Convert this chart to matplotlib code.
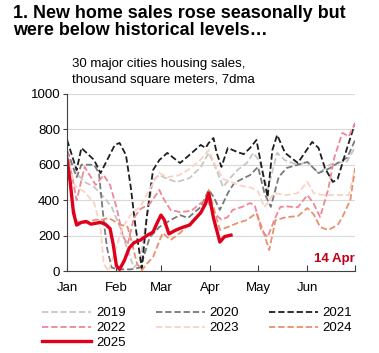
import matplotlib

matplotlib.use("Agg")
import matplotlib.pyplot as plt

plt.rcParams["font.family"] = ["Liberation Sans", "DejaVu Sans"]

# days since 1 Jan, 7dma sales in thousand sqm
days_2019 = [0, 5, 11, 17, 23, 28, 34, 38, 42, 46, 50, 54, 58, 63, 69, 77, 84, 89, 94, 98, 103, 107, 113, 117, 121,
             126, 132, 137, 145, 151, 158, 165, 170, 176, 181]
vals_2019 = [680, 560, 503, 475, 418, 362, 232, 120, 20, 60, 300, 514, 542, 520, 503, 525, 588, 667, 570, 475, 530,
             570, 610, 667, 620, 458, 667, 625, 600, 616, 553, 600, 610, 620, 700]

days_2020 = [0, 6, 9, 17, 20, 23, 25, 28, 32, 40, 46, 52, 58, 65, 71, 76, 84, 89, 92, 96, 101, 105, 110, 115, 120,
             124, 128, 133, 138, 145, 151, 158, 165, 170, 176, 181]
vals_2020 = [680, 530, 600, 600, 553, 288, 135, 20, 10, 10, 20, 192, 249, 288, 316, 300, 362, 458, 420, 345, 440,
             497, 520, 542, 588, 440, 362, 531, 582, 600, 616, 553, 580, 610, 640, 740]

days_2021 = [0, 6, 9, 17, 21, 30, 33, 37, 40, 43, 47, 50, 54, 58, 63, 67, 71, 79, 84, 87, 89, 92, 94, 97, 101, 107,
             111, 115, 119, 123, 126, 129, 132, 137, 145, 154, 158, 162, 167, 170, 175, 179, 181]
vals_2021 = [740, 570, 695, 627, 553, 712, 723, 655, 475, 250, 15, 300, 570, 627, 667, 638, 610, 672, 712, 695, 723,
             751, 667, 588, 695, 672, 660, 695, 740, 553, 418, 683, 768, 667, 610, 729, 695, 582, 503, 520, 667, 780,
             835]

days_2022 = [0, 6, 11, 18, 23, 27, 31, 35, 38, 42, 46, 52, 58, 60, 65, 71, 78, 84, 88, 92, 97, 101, 104, 110, 115,
             118, 122, 126, 131, 134, 138, 145, 151, 155, 159, 164, 168, 173, 177, 181]
vals_2022 = [680, 400, 588, 486, 542, 486, 362, 200, 150, 300, 350, 380, 458, 418, 345, 333, 340, 384, 401, 330, 290,
             305, 345, 362, 384, 370, 232, 192, 305, 362, 365, 360, 429, 380, 305, 458, 644, 780, 760, 836]

days_2023 = [0, 5, 11, 17, 21, 23, 26, 29, 35, 41, 46, 54, 58, 63, 70, 76, 83, 89, 93, 98, 104, 110, 116, 120, 124,
             130, 138, 145, 151, 155, 160, 170, 177, 181]
vals_2023 = [650, 480, 446, 384, 250, 40, 0, 80, 250, 330, 362, 497, 553, 530, 540, 570, 620, 683, 600, 520, 500, 480,
             470, 450, 360, 440, 429, 440, 503, 440, 429, 429, 429, 582]

days_2024 = [0, 3, 6, 10, 14, 18, 22, 26, 30, 34, 38, 41, 44, 47, 50, 54, 60, 65, 71, 78, 84, 89, 96, 101, 107, 113,
             119, 123, 127, 131, 138, 145, 151, 155, 159, 164, 170, 173, 178, 181]
vals_2024 = [600, 400, 280, 270, 280, 290, 290, 300, 280, 260, 250, 150, 40, 5, 40, 79, 215, 175, 215, 277, 328, 458,
             232, 249, 271, 288, 328, 232, 119, 288, 305, 310, 356, 320, 249, 232, 260, 305, 401, 582]

days_2025 = [0, 2, 4, 6, 9, 12, 15, 18, 21, 24, 27, 29, 31, 33, 36, 39, 42, 46, 50, 54, 57, 59, 61, 64, 68, 72, 77,
             80, 84, 87, 89, 92, 96, 99, 103]
vals_2025 = [630, 500, 330, 260, 275, 280, 265, 270, 275, 265, 240, 150, 30, 10, 60, 130, 160, 175, 200, 220, 280,
             316, 290, 210, 230, 245, 260, 290, 330, 380, 440, 300, 164, 195, 203]

month_ticks = [0, 31, 59, 90, 120, 151, 181]
month_labels = ["Jan", "Feb", "Mar", "Apr", "May", "Jun", ""]

series = [
    ("2019", days_2019, vals_2019, "#c6c6c6"),
    ("2020", days_2020, vals_2020, "#7a7a7a"),
    ("2021", days_2021, vals_2021, "#1e1e1e"),
    ("2022", days_2022, vals_2022, "#ef8796"),
    ("2023", days_2023, vals_2023, "#f8d3c4"),
    ("2024", days_2024, vals_2024, "#e8916f"),
]


def main():
    fig = plt.figure(figsize=(3.79, 3.53), dpi=100)
    ax = fig.add_axes([0.177, 0.232, 0.76, 0.502])

    lines = {}
    for name, d, v, c in series:
        lines[name], = ax.plot(d, v, color=c, lw=1.3, ls=(0, (3.5, 1.6)), label=name)
    lines["2025"], = ax.plot(days_2025, vals_2025, color="#e0001b", lw=2.4, label="2025")

    ax.set_xlim(0, 181)
    ax.set_ylim(0, 1000)
    ax.set_yticks(range(0, 1001, 200))
    ax.set_xticks(month_ticks)
    ax.set_xticklabels(month_labels)
    ax.yaxis.grid(True, color="#d9d9d9", lw=0.8)
    ax.set_axisbelow(True)
    for s in ["top", "right"]:
        ax.spines[s].set_visible(False)
    ax.spines["left"].set_color("#404040")
    ax.spines["bottom"].set_color("#404040")
    ax.tick_params(axis="y", labelsize=9.5, length=3, color="#404040", pad=2)
    ax.tick_params(axis="x", labelsize=9.5, direction="in", length=4, color="#404040", pad=8)

    ax.text(1.0, 0.07, "14 Apr", transform=ax.transAxes, ha="right", va="center",
            color="#c00018", fontsize=9.5, fontweight="bold")

    fig.text(0.034, 0.985, "1. New home sales rose seasonally but\nwere below historical levels…",
             ha="left", va="top", fontsize=12.9, fontweight="bold", linespacing=1.0)
    fig.text(0.19, 0.835, "30 major cities housing sales,\nthousand square meters, 7dma",
             ha="left", va="top", fontsize=9.5, linespacing=1.45)

    # legend filled column by column -> order so rows read 2019..2021 / 2022..2024 / 2025
    order = ["2019", "2022", "2025", "2020", "2023", "2021", "2024"]
    fig.legend([lines[k] for k in order], order, loc="upper left", bbox_to_anchor=(0.112, 0.13), ncol=3,
               frameon=False, fontsize=9.5, handlelength=3.7, handletextpad=0.35, columnspacing=2.3,
               labelspacing=0.2, borderpad=0, borderaxespad=0)

    fig.savefig("out.png", dpi=100)


if __name__ == "__main__":
    main()
